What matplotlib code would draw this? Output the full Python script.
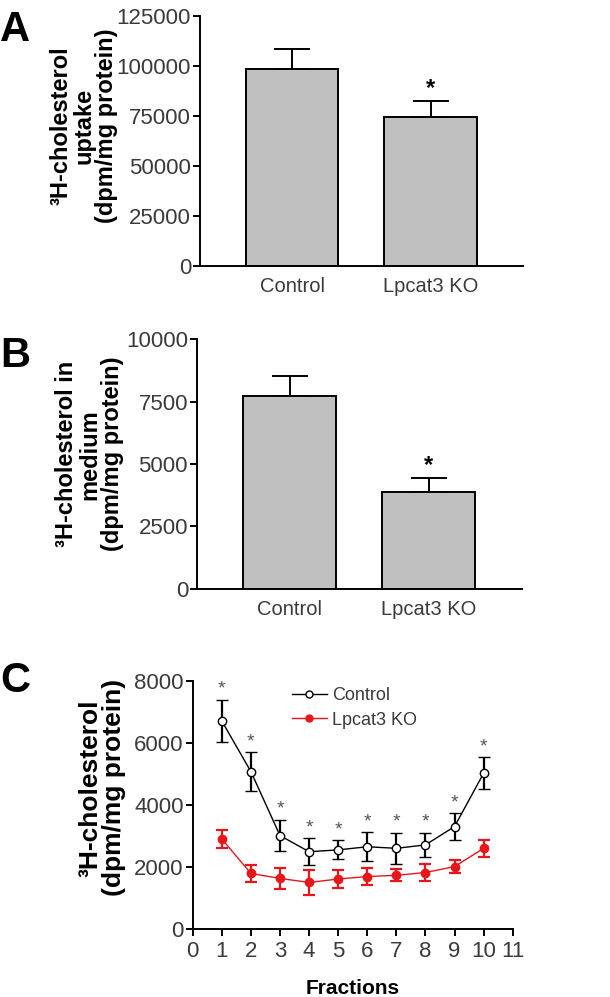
import matplotlib
matplotlib.use("Agg")
import matplotlib.pyplot as plt
from matplotlib.lines import Line2D
import numpy as np

plt.rcParams['font.family'] = ['Liberation Sans', 'DejaVu Sans']

groups = ['Control', 'Lpcat3 KO']
uptake = [98300, 74700]
uptake_err = [10000, 8000]
medium = [7730, 3890]
medium_err = [800, 540]

fractions = [1, 2, 3, 4, 5, 6, 7, 8, 9, 10]
ctrl = [6710, 5080, 3020, 2500, 2560, 2660, 2610, 2720, 3310, 5030]
ctrl_err = [690, 620, 510, 430, 310, 460, 500, 390, 430, 520]
ko = [2910, 1800, 1640, 1510, 1620, 1700, 1740, 1830, 2020, 2610]
ko_err = [290, 260, 330, 410, 300, 270, 190, 280, 220, 280]

tick_col = '#3a3a3a'
red = '#e8161b'

fig = plt.figure(figsize=(6.10, 9.97), dpi=100)


def style(ax):
    for s in ['top', 'right']:
        ax.spines[s].set_visible(False)
    for s in ['left', 'bottom']:
        ax.spines[s].set_linewidth(1.4)
    ax.tick_params(axis='y', direction='out', length=5, width=1.4, pad=1.5,
                   labelsize=16, labelcolor=tick_col)


def bar_panel(rect, vals, errs, ymax, step, label, ycoords):
    ax = fig.add_axes(rect)
    x = np.arange(len(groups))
    ax.bar(x, vals, width=0.667, color='#c0c0c0', edgecolor='black', linewidth=1.4)
    ax.errorbar(x, vals, yerr=[np.zeros(len(vals)), errs], fmt='none',
                ecolor='black', elinewidth=1.4, capsize=13, capthick=1.4)
    ax.text(1, vals[1] + errs[1] + ymax * 0.05, '*', ha='center', va='center',
            fontsize=17, fontweight='bold')
    ax.set_xlim(-0.667, 1.667)
    ax.set_ylim(0, ymax)
    ax.set_yticks(np.arange(0, ymax + 1, step))
    ax.set_xticks(x)
    ax.set_xticklabels(groups)
    ax.tick_params(axis='x', length=0, pad=8, labelsize=14.5, labelcolor=tick_col)
    style(ax)
    ax.set_ylabel(label, fontsize=17, fontweight='bold', linespacing=1.0,
                  va='center', ha='center', multialignment='center')
    ax.yaxis.set_label_coords(*ycoords)
    return ax


bar_panel([0.328, 0.733, 0.529, 0.251], uptake, uptake_err, 125000, 25000,
          '³H-cholesterol\nuptake\n(dpm/mg protein)', (-0.36, 0.56))
bar_panel([0.323, 0.4095, 0.532, 0.250], medium, medium_err, 10000, 2500,
          '³H-cholesterol in\nmedium\n(dpm/mg protein)', (-0.33, 0.54))

# panel C
ax = fig.add_axes([0.316, 0.0679, 0.5245, 0.249])
ax.errorbar(fractions, ctrl, yerr=ctrl_err, color='black', lw=1.0,
            marker='o', ms=6, mfc='white', mec='black', mew=1.0,
            ecolor='black', elinewidth=1.6, capsize=4, capthick=1.6, zorder=3)
ax.errorbar(fractions, ko, yerr=ko_err, color=red, lw=1.0,
            marker='o', ms=6, mfc=red, mec=red,
            ecolor=red, elinewidth=1.6, capsize=4, capthick=1.6, zorder=2)
for xi, yi, ei in zip(fractions, ctrl, ctrl_err):
    ax.text(xi, yi + ei + 60, '*', ha='center', va='bottom', fontsize=14,
            color='#555555')
ax.set_xlim(0, 11)
ax.set_ylim(0, 8000)
ax.set_xticks(range(0, 12))
ax.set_yticks(range(0, 8001, 2000))
style(ax)
ax.tick_params(axis='x', direction='out', length=5, width=1.4,
               labelsize=16, labelcolor=tick_col)
ax.set_xlabel('Fractions', fontsize=15, fontweight='bold', labelpad=12)
ax.set_ylabel('³H-cholesterol\n(dpm/mg protein)', fontsize=19, fontweight='bold',
              linespacing=1.0, va='center', ha='center', multialignment='center')
ax.yaxis.set_label_coords(-0.283, 0.57)
handles = [
    Line2D([], [], color='black', lw=1.0, marker='o', ms=5, mfc='white', mec='black'),
    Line2D([], [], color=red, lw=1.0, marker='o', ms=5, mfc=red, mec=red),
]
ax.legend(handles, ['Control', 'Lpcat3 KO'], loc='upper left',
          bbox_to_anchor=(0.26, 1.04), frameon=False, fontsize=13,
          handlelength=1.9, handletextpad=0.3, labelspacing=0.4,
          labelcolor=tick_col)

fig.text(0.0, 0.99, 'A', fontsize=30, fontweight='bold', va='top', ha='left')
fig.text(0.0, 0.663, 'B', fontsize=30, fontweight='bold', va='top', ha='left')
fig.text(0.0, 0.337, 'C', fontsize=30, fontweight='bold', va='top', ha='left')

fig.savefig('out.png', dpi=100)
